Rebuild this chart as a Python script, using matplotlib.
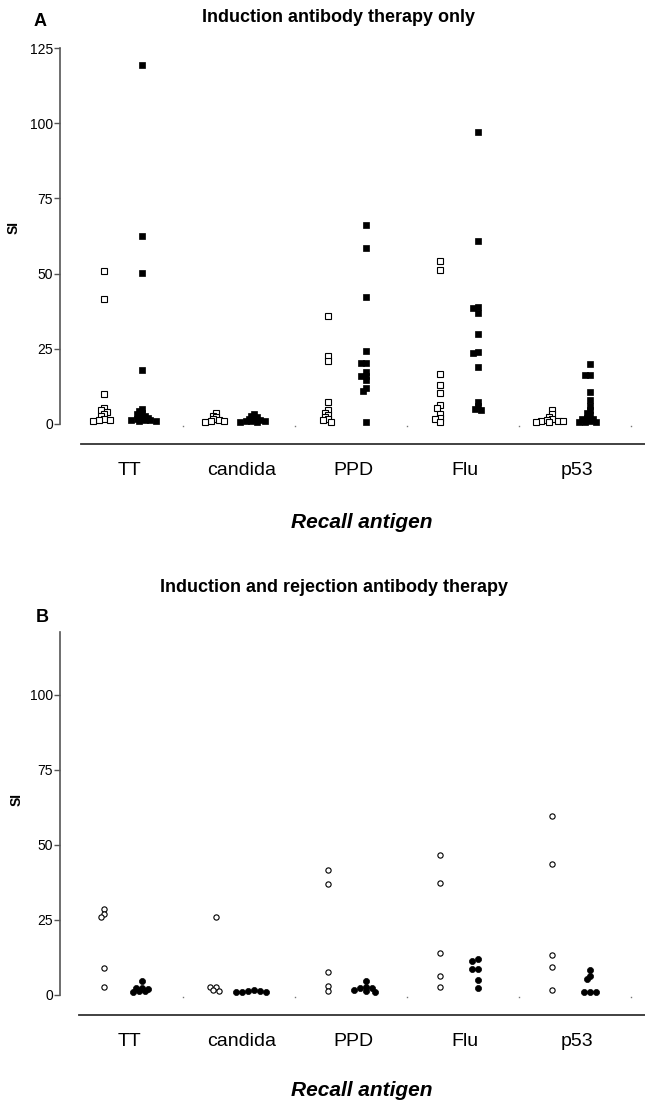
import matplotlib
matplotlib.use("Agg")
import matplotlib.pyplot as plt
import numpy as np

plt.rcParams['font.family'] = ['Liberation Sans', 'DejaVu Sans']

categories = ['TT', 'candida', 'PPD', 'Flu', 'p53']

# panel A - induction antibody therapy only (open / filled squares)
a_open = [
    [51, 41.5, 10, 5.3, 4.5, 4, 3.2, 2.5, 1.5, 1.2, 1.2, 1.0],
    [3.5, 2.8, 2.2, 1.6, 1.2, 1.0, 0.9, 0.8],
    [36, 22.7, 20.8, 7.2, 4.7, 3.8, 3.0, 2.2, 1.6, 1.2, 0.8],
    [54.1, 51.1, 16.6, 13.1, 10.2, 6.2, 5.2, 3.3, 2.1, 1.6, 0.8],
    [4.5, 3.2, 2.2, 1.6, 1.3, 1.1, 1.0, 0.9, 0.8, 0.7],
]
a_filled = [
    [119.5, 62.5, 50.3, 18.1, 5.0, 4.4, 3.8, 3.3, 2.8, 2.4, 2.0, 1.8, 1.6, 1.4, 1.3, 1.2, 1.1, 1.0],
    [3.3, 2.7, 2.2, 1.8, 1.5, 1.3, 1.1, 1.0, 0.9, 0.8, 0.7],
    [66, 58.5, 42.1, 24.2, 20.4, 20.4, 17.3, 16, 16, 14.7, 12.1, 11.1, 0.8],
    [97, 60.7, 38.9, 38.6, 36.9, 30, 23.8, 23.6, 18.8, 7.4, 6.1, 5.1, 4.6],
    [19.9, 16.4, 16.4, 10.7, 7.8, 6, 4.7, 3.7, 3, 2, 1.6, 1.5, 1, 0.8, 0.8, 0.8],
]

# panel B - induction and rejection antibody therapy (open / filled circles)
b_open = [
    [28.7, 27.1, 26.1, 9.1, 2.6],
    [26, 2.8, 2.6, 1.7, 1.3],
    [41.6, 36.9, 7.7, 3.0, 1.4],
    [46.8, 37.3, 13.9, 6.4, 2.6],
    [59.8, 43.6, 13.2, 9.2, 1.7],
]
b_filled = [
    [4.8, 2.4, 2.3, 2.1, 1.4, 1.2, 1.1],
    [1.5, 1.3, 1.2, 1.1, 1.0, 0.9],
    [4.7, 2.6, 2.4, 2.2, 1.7, 1.2, 1.1],
    [12, 11.4, 8.7, 8.7, 5, 2.4],
    [8.3, 6.3, 5.3, 1.1, 1.1, 1.1],
]

W, H = 645, 1103
fig = plt.figure(figsize=(W / 100, H / 100), dpi=100)

XPX = 112.0   # px per category
YPX = 3.0     # px per SI unit


def swarm(vals, d, gap):
    # simple beeswarm, markers may overlap down to `gap` pixels apart
    vals = np.asarray(vals, float)
    offs = np.zeros(len(vals))
    placed = []
    steps = [0]
    for k in range(1, 12):
        steps += [-k * d / 2, k * d / 2]
    for j in np.argsort(-vals, kind='stable'):
        y = vals[j] * YPX
        for s in steps:
            if all((s - px) ** 2 + (y - py) ** 2 >= gap * gap for px, py in placed):
                offs[j] = s
                placed.append((s, y))
                break
    return offs / XPX


def panel(top, bottom, ytop, open_vals, filled_vals, marker, ms_open, ms_fill, d, gap, x0):
    ax = fig.add_axes([60 / W, 1 - bottom / H, (W - 60) / W, (bottom - top) / H])
    for i in range(len(categories)):
        ov = np.array(open_vals[i])
        fv = np.array(filled_vals[i])
        ax.plot(i - 0.205 + swarm(ov, d, gap), ov, ls='none', marker=marker, ms=ms_open,
                mfc='white', mec='black', mew=0.8)
        ax.plot(i + 0.134 + swarm(fv, d, gap), fv, ls='none', marker=marker, ms=ms_fill,
                mfc='black', mec='black', mew=0.5)
    # little dots between the columns
    ax.plot(np.arange(len(categories)) + 0.5, [-0.6] * len(categories), ls='none',
            marker='s', ms=1.0, color='#777777', mew=0)
    ax.set_xlim((60 - 127) / XPX, (W - 127) / XPX)
    ax.set_ylim(-6.67, ytop)
    ax.set_yticks([0, 25, 50, 75, 100, 125] if ytop >= 125 else [0, 25, 50, 75, 100])
    ax.set_xticks(np.arange(len(categories)) + 0.02)
    ax.set_xticklabels(categories)
    ax.spines['top'].set_visible(False)
    ax.spines['right'].set_visible(False)
    ax.spines['left'].set_bounds(0, ytop)
    ax.spines['left'].set_color('#555555')
    ax.spines['left'].set_linewidth(1.2)
    ax.spines['bottom'].set_bounds((x0 - 127) / XPX, (W - 127) / XPX)
    ax.spines['bottom'].set_color('#333333')
    ax.spines['bottom'].set_linewidth(1.3)
    ax.tick_params(axis='y', length=4.5, width=1, color='#555555', labelsize=10, pad=0.5)
    ax.tick_params(axis='x', length=0, labelsize=14, pad=13)
    ax.patch.set_alpha(0)
    return ax


panel(48, 444, 125, a_open, a_filled, 's', 3.8, 4.0, 5.5, 3.2, 81)
panel(632, 1015, 121, b_open, b_filled, 'o', 3.8, 4.4, 6.0, 4.0, 79)

fig.text(338 / W, 1 - 17 / H, 'Induction antibody therapy only', ha='center', va='center',
         fontsize=13, fontweight='bold')
fig.text(334 / W, 1 - 588 / H, 'Induction and rejection antibody therapy', ha='center',
         va='center', fontsize=13, fontweight='bold')
fig.text(40 / W, 1 - 22 / H, 'A', ha='center', va='center', fontsize=13, fontweight='bold')
fig.text(42 / W, 1 - 617 / H, 'B', ha='center', va='center', fontsize=13, fontweight='bold')
fig.text(14 / W, 1 - 228 / H, 'SI', ha='center', va='center', fontsize=10,
         fontweight='bold', rotation=90)
fig.text(17 / W, 1 - 800 / H, 'SI', ha='center', va='center', fontsize=10,
         fontweight='bold', rotation=90)
fig.text(362 / W, 1 - 523 / H, 'Recall antigen', ha='center', va='center', fontsize=15,
         fontweight='bold', fontstyle='italic')
fig.text(362 / W, 1 - 1090 / H, 'Recall antigen', ha='center', va='center', fontsize=15,
         fontweight='bold', fontstyle='italic')

fig.savefig('out.png', dpi=100)
